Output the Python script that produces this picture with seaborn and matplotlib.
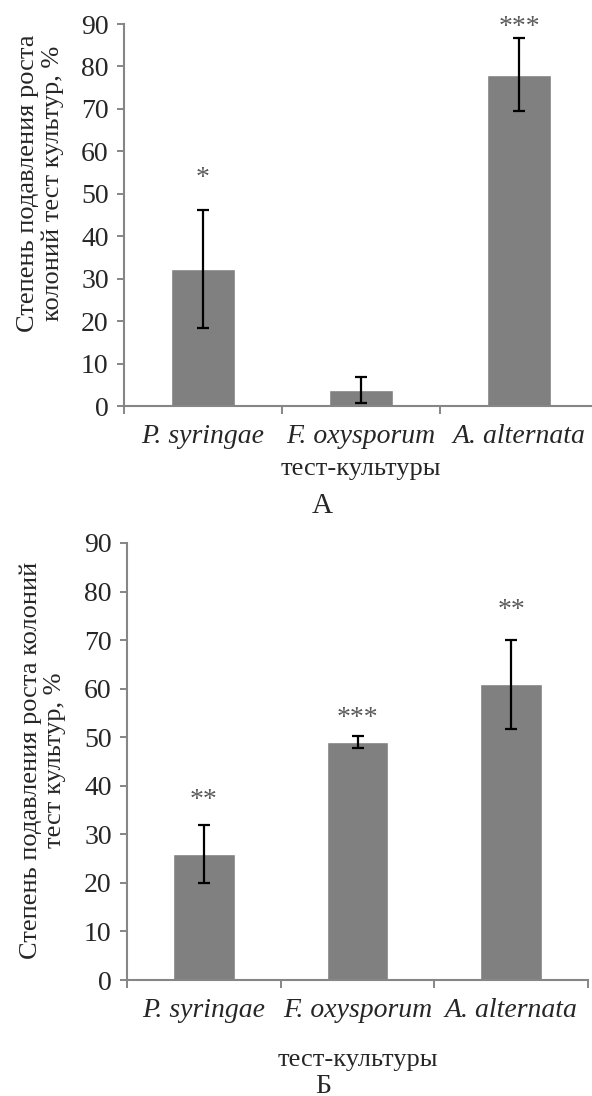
import matplotlib
matplotlib.use('Agg')
import matplotlib.pyplot as plt
import seaborn as sns
import pandas as pd

# Data
categories = ['P. syringae', 'F. oxysporum', 'A. alternata']

a_values = [32.3, 3.85, 78.1]
a_errors = [13.9, 3.05, 8.5]
a_stars = ['*', '', '***']
a_star_y = [52.1, 0, 87.7]

b_values = [25.9, 49.0, 60.9]
b_errors = [6.0, 1.3, 9.2]
b_stars = ['**', '***', '**']
b_star_y = [35.6, 52.5, 74.7]

y_ticks = [0, 10, 20, 30, 40, 50, 60, 70, 80, 90]

# Style
sns.set_style('ticks')
plt.rcParams['font.family'] = ['Liberation Serif', 'DejaVu Serif']
plt.rcParams['font.size'] = 20

bar_color = '#808080'
axis_color = '#868686'

fig = plt.figure(figsize=(5.92, 10.96), dpi=100)

panels = [
    # values, errors, stars, star heights, ylabel, axes rect, ylabel coords, xlabel y
    (a_values, a_errors, a_stars, a_star_y,
     'Степень подавления роста\nколоний тест культур, %',
     [124 / 592, 1 - 406 / 1096, 474 / 592, 382 / 1096], (-0.127, 0.584), -0.135),
    (b_values, b_errors, b_stars, b_star_y,
     'Степень подавления роста колоний\nтест культур, %',
     [127 / 592, 1 - 980 / 1096, 461 / 592, 437 / 1096], (-0.132, 0.503), -0.157),
]

for values, errors, stars, star_y, ylabel, rect, ylab_xy, xlab_y in panels:
    ax = fig.add_axes(rect)
    df = pd.DataFrame({'culture': categories, 'value': values})
    sns.barplot(data=df, x='culture', y='value', color=bar_color, saturation=1,
                width=0.4, errorbar=None, ax=ax)
    ax.errorbar(range(len(categories)), values, yerr=errors, fmt='none',
                ecolor='black', elinewidth=1.6, capsize=4.5, capthick=1.6, zorder=3)
    for i, (s, sy) in enumerate(zip(stars, star_y)):
        if s:
            ax.text(i, sy, s, ha='center', va='baseline', fontsize=20,
                    color='#595959', clip_on=False)

    ax.set_xlim(-0.5, len(categories) - 0.5)
    ax.set_ylim(0, 90)
    ax.set_yticks(y_ticks)

    # category boundary ticks as in the original
    ax.set_xticks([i - 0.5 for i in range(len(categories) + 1)], minor=True)
    ax.tick_params(axis='x', which='major', length=0, pad=13, labelsize=20)
    ax.tick_params(axis='x', which='minor', length=6, width=1.4, color=axis_color)
    ax.tick_params(axis='y', length=5, width=1.4, color=axis_color, pad=6, labelsize=20)
    for lab in ax.get_xticklabels():
        lab.set_fontstyle('italic')

    sns.despine(ax=ax)
    for side in ['left', 'bottom']:
        ax.spines[side].set_color(axis_color)
        ax.spines[side].set_linewidth(1.5)

    ax.set_ylabel(ylabel, fontsize=19, linespacing=1.15)
    ax.yaxis.set_label_coords(*ylab_xy)
    ax.set_xlabel('тест-культуры', fontsize=19)
    ax.xaxis.set_label_coords(0.5, xlab_y)

fig.text(322 / 592, 1 - 513 / 1096, 'А', fontsize=21, ha='center', va='baseline')
fig.text(323 / 592, 1 - 1093 / 1096, 'Б', fontsize=20, ha='center', va='baseline')

fig.savefig('out.png', dpi=100)
